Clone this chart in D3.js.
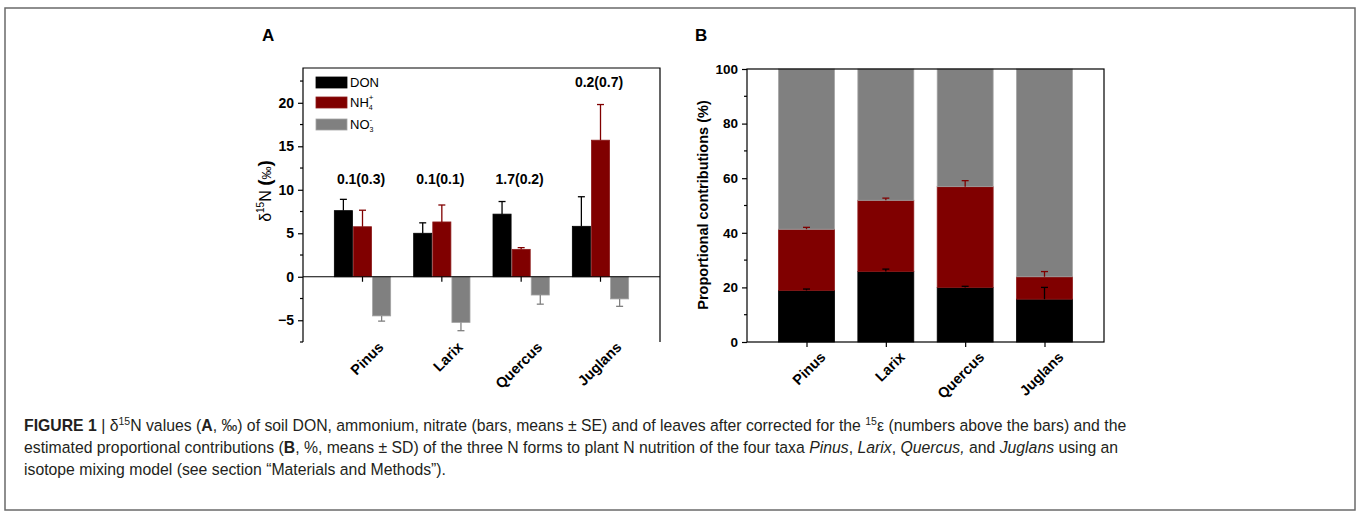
<!DOCTYPE html>
<html>
<head>
<meta charset="utf-8">
<script src="https://cdn.jsdelivr.net/npm/d3@7"></script>
<style>
  body { margin: 0; background: #fff; }
  svg text { font-family: "Liberation Sans", Arial, sans-serif; }
</style>
</head>
<body>
<svg id="fig" width="1357" height="515"></svg>
<script>
const taxa = ['Pinus', 'Larix', 'Quercus', 'Juglans'];

// panel A: d15N of soil N forms (means, SE)
const donMean = [7.6, 5.0, 7.2, 5.8];
const donSE = [1.3, 1.2, 1.45, 3.4];
const nh4Mean = [5.75, 6.3, 3.15, 15.7];
const nh4SE = [1.9, 1.95, 0.2, 4.1];
const no3Mean = [-4.5, -5.25, -2.1, -2.55];
const no3SE = [0.6, 0.95, 1.05, 0.85];
const leafLabels = ['0.1(0.3)', '0.1(0.1)', '1.7(0.2)', '0.2(0.7)'];
const leafLabelAt = [10.7, 10.7, 10.7, 21.8];
const ticksA = [-5, 0, 5, 10, 15, 20];

// panel B: proportional contributions (%), means and SD
const donPct = [18.9, 25.8, 20.0, 15.7];
const donSD = [0.5, 0.9, 0.4, 4.3];
const nh4Pct = [22.4, 26.1, 36.9, 8.2];
const nh4SD = [0.7, 0.8, 2.2, 1.9];
const no3Pct = donPct.map((d, i) => 100 - d - nh4Pct[i]);
const ticksB = [0, 20, 40, 60, 80, 100];

const colors = {DON: '#000000', NH4: '#800000', NO3: '#808080'};
const strokes = {DON: '#000000', NH4: '#8c1a1a', NO3: '#a3a3a3'};

const svg = d3.select('#fig');

// outer frame
svg.append('rect')
    .attr('x', 5).attr('y', 8)
    .attr('width', 1350).attr('height', 502)
    .attr('fill', 'none')
    .attr('stroke', '#6a6a6a')
    .attr('stroke-width', 1.5);

// ---------- panel A ----------
const xA = d3.scaleLinear().domain([0.25, 4.75]).range([303, 660]);
const yA = d3.scaleLinear().domain([-7.5, 24]).range([342, 68]);

const gA = svg.append('g');

gA.append('text')
    .attr('x', 262).attr('y', 41)
    .style('font-size', '17px').style('font-weight', 'bold')
    .text('A');

const seriesA = [
  {key: 'DON', mean: donMean, se: donSE, off: -0.241},
  {key: 'NH4', mean: nh4Mean, se: nh4SE, off: 0},
  {key: 'NO3', mean: no3Mean, se: no3SE, off: 0.241},
];
const bwA = 0.228;

seriesA.forEach(s => {
  const rows = taxa.map((t, i) => ({i: i + 1, v: s.mean[i], e: s.se[i]}));
  const g = gA.append('g');
  g.selectAll('rect')
      .data(rows)
      .enter()
      .append('rect')
      .attr('x', d => xA(d.i + s.off - bwA / 2))
      .attr('width', d => xA(bwA) - xA(0))
      .attr('y', d => yA(Math.max(0, d.v)))
      .attr('height', d => Math.abs(yA(d.v) - yA(0)))
      .attr('fill', colors[s.key])
      .attr('stroke', strokes[s.key])
      .attr('stroke-width', 0.8);
  // error bars point away from zero
  const tip = d => d.v >= 0 ? d.v + d.e : d.v - d.e;
  g.selectAll('line.err')
      .data(rows)
      .enter()
      .append('line')
      .attr('x1', d => xA(d.i + s.off)).attr('x2', d => xA(d.i + s.off))
      .attr('y1', d => yA(d.v)).attr('y2', d => yA(tip(d)))
      .attr('stroke', colors[s.key]).attr('stroke-width', 1.3);
  g.selectAll('line.cap')
      .data(rows)
      .enter()
      .append('line')
      .attr('x1', d => xA(d.i + s.off) - 3.5).attr('x2', d => xA(d.i + s.off) + 3.5)
      .attr('y1', d => yA(tip(d))).attr('y2', d => yA(tip(d)))
      .attr('stroke', colors[s.key]).attr('stroke-width', 1.3);
});

// frame: left, top, right
gA.append('path')
    .attr('d', `M${xA(0.25)},${yA(-7.5)}V${yA(24)}H${xA(4.75)}V${yA(-7.5)}`)
    .attr('fill', 'none').attr('stroke', '#000').attr('stroke-width', 1.2);

// zero line with category ticks
gA.append('line')
    .attr('x1', xA(0.25)).attr('x2', xA(4.75))
    .attr('y1', yA(0)).attr('y2', yA(0))
    .attr('stroke', '#000').attr('stroke-width', 1.2);
gA.selectAll('line.xt')
    .data(taxa)
    .enter()
    .append('line')
    .attr('x1', (d, i) => xA(i + 1)).attr('x2', (d, i) => xA(i + 1))
    .attr('y1', yA(0)).attr('y2', yA(0) + 5)
    .attr('stroke', '#000').attr('stroke-width', 1.2);

// y axis
const yAxisA = d3.axisLeft(yA).tickValues(ticksA).tickSize(5).tickPadding(4);
const axA = gA.append('g')
    .attr('transform', `translate(${xA(0.25)},0)`)
    .call(yAxisA);
axA.select('.domain').remove();
axA.selectAll('text').style('font-size', '14px').style('font-weight', 'bold')
    .style('font-family', '"Liberation Sans", Arial, sans-serif');
axA.selectAll('line').attr('stroke-width', 1.2);
const minorA = d3.range(-7.5, 24, 2.5).filter(v => !ticksA.includes(v));
gA.selectAll('line.minor')
    .data(minorA)
    .enter()
    .append('line')
    .attr('x1', xA(0.25) - 3).attr('x2', xA(0.25))
    .attr('y1', d => yA(d)).attr('y2', d => yA(d))
    .attr('stroke', '#000').attr('stroke-width', 1.2);

// category labels
gA.selectAll('text.cat')
    .data(taxa)
    .enter()
    .append('text')
    .attr('transform', (d, i) => `translate(${xA(i + 1) + 22},348) rotate(-45)`)
    .attr('text-anchor', 'end')
    .style('font-size', '14.5px').style('font-weight', 'bold')
    .text(d => d);

// leaf values above bars
gA.selectAll('text.leaf')
    .data(leafLabels)
    .enter()
    .append('text')
    .attr('x', (d, i) => xA(i + 1) - 1.5)
    .attr('y', (d, i) => yA(leafLabelAt[i]))
    .attr('text-anchor', 'middle')
    .style('font-size', '14px').style('font-weight', 'bold')
    .text(d => d);

// y label
const ylA = gA.append('text')
    .attr('transform', `translate(271,191) rotate(-90)`)
    .attr('text-anchor', 'middle')
    .style('font-size', '16px');
ylA.append('tspan').text('δ');
ylA.append('tspan').attr('dy', -7).style('font-size', '10px').text('15');
ylA.append('tspan').attr('dy', 7).text('N ');
ylA.append('tspan').style('font-size', '19px').style('font-weight', 'bold').text('(');
ylA.append('tspan').style('font-size', '13px').text('‰');
ylA.append('tspan').style('font-size', '19px').style('font-weight', 'bold').text(')');

// legend
const legendItems = [
  {key: 'DON', main: 'DON', sub: '', sup: ''},
  {key: 'NH4', main: 'NH', sub: '4', sup: '+'},
  {key: 'NO3', main: 'NO', sub: '3', sup: '-'},
];
const legendY = [77, 97, 119];
legendItems.forEach((it, i) => {
  gA.append('rect')
      .attr('x', 316).attr('y', legendY[i])
      .attr('width', 31).attr('height', 11)
      .attr('fill', colors[it.key])
      .attr('stroke', strokes[it.key]).attr('stroke-width', 0.8);
  const t = gA.append('text')
      .attr('x', 350).attr('y', legendY[i] + 10)
      .style('font-size', '13px')
      .text(it.main);
  if (it.sub) {
    t.append('tspan').attr('dy', 3).style('font-size', '7px').text(it.sub);
    t.append('tspan').attr('dx', -4).attr('dy', -10).style('font-size', '8px').text(it.sup);
  }
});

// ---------- panel B ----------
const xB = d3.scaleLinear().domain([0.25, 4.75]).range([747, 1104]);
const yB = d3.scaleLinear().domain([0, 100]).range([342, 69]);
const gB = svg.append('g');

gB.append('text')
    .attr('x', 695).attr('y', 41)
    .style('font-size', '17px').style('font-weight', 'bold')
    .text('B');

const bwB = 0.705;
const stackRows = taxa.map((t, i) => ({
  i: i + 1,
  segs: [
    {key: 'DON', y0: 0, y1: donPct[i], sd: donSD[i]},
    {key: 'NH4', y0: donPct[i], y1: donPct[i] + nh4Pct[i], sd: nh4SD[i]},
    {key: 'NO3', y0: donPct[i] + nh4Pct[i], y1: donPct[i] + nh4Pct[i] + no3Pct[i], sd: 0},
  ]
}));

stackRows.forEach(r => {
  const g = gB.append('g');
  g.selectAll('rect')
      .data(r.segs)
      .enter()
      .append('rect')
      .attr('x', xB(r.i - bwB / 2))
      .attr('width', xB(bwB) - xB(0))
      .attr('y', d => yB(d.y1))
      .attr('height', d => yB(d.y0) - yB(d.y1))
      .attr('fill', d => colors[d.key])
      .attr('stroke', d => strokes[d.key]).attr('stroke-width', 0.8);
  const errs = r.segs.filter(d => d.sd > 0);
  g.selectAll('line.err')
      .data(errs)
      .enter()
      .append('line')
      .attr('x1', xB(r.i)).attr('x2', xB(r.i))
      .attr('y1', d => yB(d.y1)).attr('y2', d => yB(d.y1 + d.sd))
      .attr('stroke', d => colors[d.key]).attr('stroke-width', 1.3);
  g.selectAll('line.cap')
      .data(errs)
      .enter()
      .append('line')
      .attr('x1', xB(r.i) - 3.5).attr('x2', xB(r.i) + 3.5)
      .attr('y1', d => yB(d.y1 + d.sd)).attr('y2', d => yB(d.y1 + d.sd))
      .attr('stroke', d => colors[d.key]).attr('stroke-width', 1.3);
});

gB.append('rect')
    .attr('x', xB(0.25)).attr('y', yB(100))
    .attr('width', xB(4.75) - xB(0.25)).attr('height', yB(0) - yB(100))
    .attr('fill', 'none').attr('stroke', '#000').attr('stroke-width', 1.2);

const axBy = gB.append('g')
    .attr('transform', `translate(${xB(0.25)},0)`)
    .call(d3.axisLeft(yB).tickValues(ticksB).tickSize(5).tickPadding(4));
axBy.select('.domain').remove();
axBy.selectAll('text').style('font-size', '13.5px').style('font-weight', 'bold')
    .style('font-family', '"Liberation Sans", Arial, sans-serif');
axBy.selectAll('line').attr('stroke-width', 1.2);
gB.selectAll('line.minor')
    .data(d3.range(10, 100, 20))
    .enter()
    .append('line')
    .attr('x1', xB(0.25) - 3).attr('x2', xB(0.25))
    .attr('y1', d => yB(d)).attr('y2', d => yB(d))
    .attr('stroke', '#000').attr('stroke-width', 1.2);

const axBx = gB.append('g')
    .attr('transform', `translate(0,${yB(0)})`)
    .call(d3.axisBottom(xB).tickValues([1, 2, 3, 4]).tickSize(5).tickFormat(''));
axBx.select('.domain').remove();
axBx.selectAll('line').attr('stroke-width', 1.2);

gB.selectAll('text.cat')
    .data(taxa)
    .enter()
    .append('text')
    .attr('transform', (d, i) => `translate(${xB(i + 1) + 20},358) rotate(-45)`)
    .attr('text-anchor', 'end')
    .style('font-size', '14.5px').style('font-weight', 'bold')
    .text(d => d);

gB.append('text')
    .attr('transform', `translate(708,205) rotate(-90)`)
    .attr('text-anchor', 'middle')
    .style('font-size', '14.5px').style('font-weight', 'bold')
    .text('Proportional contributions (%)');

// ---------- caption ----------
const cap = svg.append('g').style('fill', '#231f20');
const capFont = '"Liberation Sans", Arial, sans-serif';
function capLine(y, parts) {
  const t = cap.append('text').attr('x', 0).attr('y', 0)
      .attr('data-y', y)
      .style('font-family', capFont).style('font-size', '16.5px');
  parts.forEach(p => {
    const s = t.append('tspan').text(p.t);
    if (p.b) s.style('font-weight', 'bold');
    if (p.i) s.style('font-style', 'italic');
    if (p.sup) s.attr('dy', -6).style('font-size', '11px');
    if (p.down) s.attr('dy', 6);
  });
  return t;
}
const l1 = capLine(431, [
  {t: 'FIGURE 1', b: true}, {t: ' | δ'}, {t: '15', sup: true},
  {t: 'N values (', down: true}, {t: 'A', b: true},
  {t: ', ‰) of soil DON, ammonium, nitrate (bars, means ± SE) and of leaves after corrected for the '},
  {t: '15', sup: true}, {t: 'ε (numbers above the bars) and the', down: true}
]);
const l2 = capLine(453, [
  {t: 'estimated proportional contributions ('}, {t: 'B', b: true},
  {t: ', %, means ± SD) of the three N forms to plant N nutrition of the four taxa '},
  {t: 'Pinus', i: true}, {t: ', '}, {t: 'Larix', i: true}, {t: ', '},
  {t: 'Quercus,', i: true}, {t: ' and '}, {t: 'Juglans', i: true}, {t: ' using an'}
]);
const l3 = capLine(475, [
  {t: 'isotope mixing model (see section “Materials and Methods”).'}
]);
// squeeze the caption horizontally to the printed line length
const sx = 1103 / l1.node().getComputedTextLength();
[l1, l2, l3].forEach(l => {
  l.attr('transform', `translate(24,${l.attr('data-y')}) scale(${sx},1)`);
});
</script>
</body>
</html>
